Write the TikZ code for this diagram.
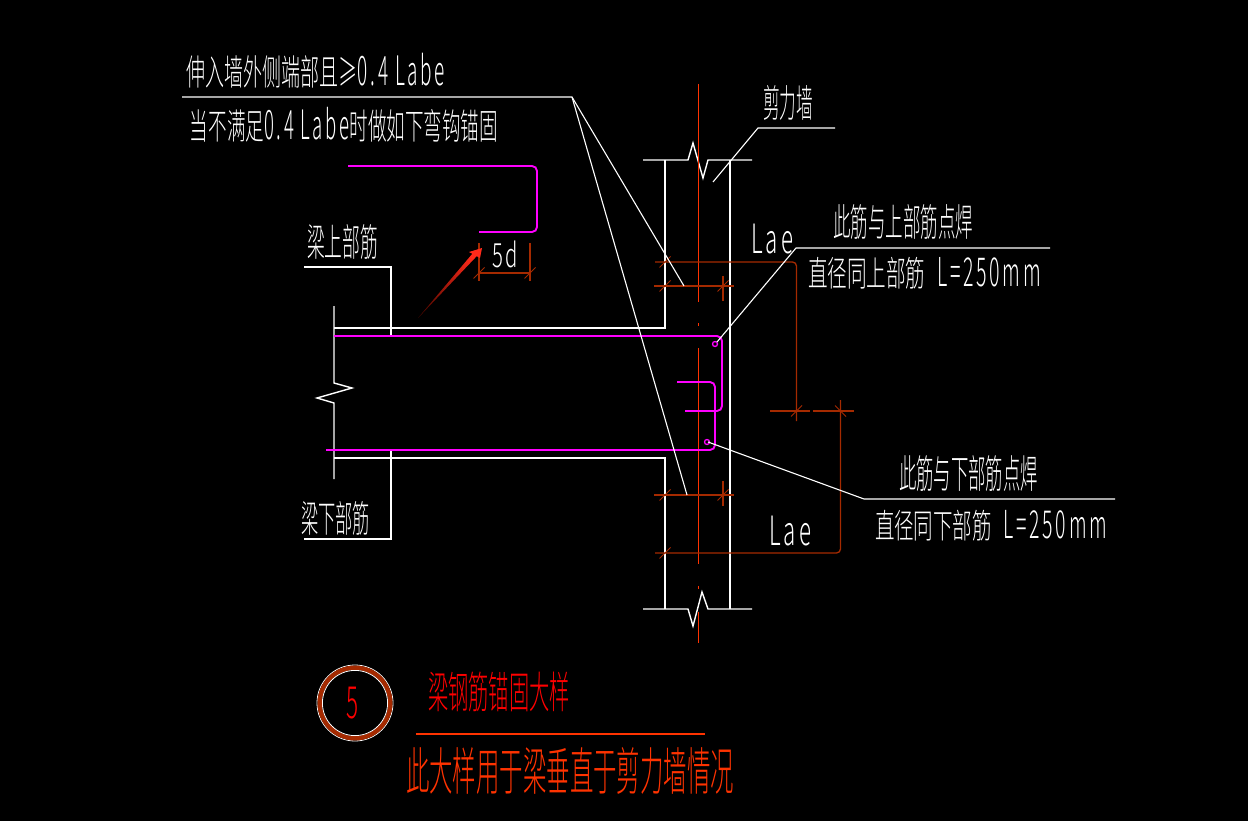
\documentclass[tikz,border=0pt]{standalone}
\usepackage{fontspec}
\IfFontExistsTF{Noto Sans CJK SC Light}{\setmainfont{Noto Sans CJK SC Light}\newfontfamily\latf[LetterSpace=14]{Noto Sans CJK SC Light}}{\setmainfont{Noto Sans CJK SC}\newfontfamily\latf[LetterSpace=14]{Noto Sans CJK SC}}
\newcommand{\lat}[1]{\scalebox{1}[1.14]{\latf #1}}
\definecolor{mag}{HTML}{FF00FF}
\definecolor{axisred}{HTML}{FF3300}
\definecolor{dimred}{HTML}{A52A00}
\definecolor{arrowred}{HTML}{FF2A1A}
\definecolor{arrowdark}{HTML}{600A00}
\newcommand{\lbl}[7]{\node[inner sep=0pt,outer sep=0pt,text=#6] (#1) at ({(#2+#3)/2},{(#4+#5)/2}) {\resizebox{\dimexpr #3pt-#2pt\relax}{\dimexpr #5pt-#4pt\relax}{\raisebox{\depth}{#7}}};}
\tikzset{
  wl/.style={draw=white,line width=1.4pt},
  lead/.style={draw=white,line width=1.1pt},
  rebar/.style={draw=mag,line width=1.9pt,rounded corners=5pt},
  axisl/.style={draw=axisred,line width=1.6pt},
  dimln/.style={draw=dimred,line width=1.3pt},
  tickln/.style={draw=dimred,line width=.9pt}
}
\begin{document}
\begin{tikzpicture}[x=1pt,y=-1pt]
\useasboundingbox (0,0) rectangle (1248,821);
\fill[black] (0,0) rectangle (1248,821);
% wall
\draw[wl] (643,160) -- (688,160) -- (693,143) -- (703,178) -- (708,160) -- (752,160);
\draw[wl] (643,609) -- (688,609) -- (693,626) -- (702,592) -- (708,609) -- (752,609);
\draw[wl] (730,160) -- (730,609);
\draw[wl] (665,160) -- (665,328) -- (334,328);
\draw[wl] (665,609) -- (665,458) -- (334,458);
\draw[wl] (334,306) -- (334,383) -- (352,388) -- (317,398) -- (334,403) -- (334,479);
\draw[wl] (304,267) -- (391,267) -- (391,336);
\draw[wl] (391,450) -- (391,539) -- (304,539);
% centre line
\draw[axisl] (698.5,84) -- (698.5,302);
\draw[axisl] (698.5,323) -- (698.5,326);
\draw[axisl] (698.5,348) -- (698.5,564);
\draw[axisl] (698.5,586) -- (698.5,589);
\draw[axisl] (698.5,612) -- (698.5,643);
% dimension lines
\draw[dimln,rounded corners=4pt] (655,262) -- (796.5,262) -- (796.5,421);
\draw[dimln] (654,286) -- (734,286);
\draw[dimln] (723,276) -- (723,301);
\draw[dimln] (654,495) -- (734,495);
\draw[dimln] (723,481) -- (723,506);
\draw[dimln,rounded corners=4pt] (655,553) -- (840.5,553) -- (840.5,400);
\draw[dimln] (770,411) -- (810,411);
\draw[dimln] (813,411) -- (854,411);
\draw[dimln] (479,243) -- (479,281);
\draw[dimln] (530,243) -- (530,281);
\draw[dimln] (479,273) -- (530,273);
\foreach \px/\py in {665/262,665/286,723/286,665/495,723/495,665/553,796.5/411,479/273,530/273}
  \draw[tickln] (\px-5.5,\py+5.5) -- (\px+5.5,\py-5.5);
\draw[tickln] (835,405.5) -- (846,416.5);
% rebars
\draw[rebar] (348,166) -- (537,166) -- (537,232) -- (479,232);
\draw[rebar] (334,336) -- (722,336) -- (722,411) -- (685,411);
\draw[rebar] (677,382) -- (715,382) -- (715,450) -- (326,450);
\draw[draw=mag,line width=1.3pt] (715,344) circle (2.5);
\draw[draw=mag,line width=1.3pt] (707,442) circle (2.5);
% leaders
\coordinate (topknee) at (572,97);
\coordinate (wallknee) at (758,128);
\coordinate (upknee) at (796,248);
\coordinate (lowknee) at (864,499);
\draw[lead] (182,97) -- (topknee) -- (684,286);
\draw[lead] (topknee) -- (687,495);
\draw[lead] (713,182) -- (wallknee) -- (835,128);
\draw[lead] (717,342) -- (upknee) -- (1050,248);
\draw[lead] (708,442) -- (lowknee) -- (1115,499);
% red arrow
\shade[top color=arrowred,bottom color=arrowdark,shading angle=-45]
  (418,318) -- (472.3,253.8) -- (469,252) -- (482,248) -- (480,258) -- (476.7,256.2) -- cycle;
% labels
\lbl{tA}{187}{445}{53}{88}{white}{伸入墙外侧端部且≥\lat{0.4 Labe}}
\lbl{tB}{190}{498}{107}{142}{white}{当不满足\lat{0.4 Labe}时做如下弯钩锚固}
\lbl{tC}{763}{813}{85}{120}{white}{剪力墙}
\lbl{tD}{833}{973}{205}{240}{white}{此筋与上部筋点焊}
\lbl{tE}{808}{1041}{257}{289}{white}{直径同上部筋\hspace{.6em}\lat{L=250mm}}
\lbl{tF}{899}{1038}{456}{492}{white}{此筋与下部筋点焊}
\lbl{tG}{875}{1107}{510}{541}{white}{直径同下部筋\hspace{.6em}\lat{L=250mm}}
\lbl{tH}{751}{793}{224}{254}{white}{{\latf Lae}}
\lbl{tI}{769}{811}{516}{546}{white}{{\latf Lae}}
\lbl{tJ}{492}{518}{241}{268}{white}{{\latf 5d}}
\lbl{tK}{307}{378}{225}{260}{white}{梁上部筋}
\lbl{tL}{301}{370}{501}{535}{white}{梁下部筋}
% title block
\draw[white,line width=.8pt] (355,703) circle (38);
\draw[dimred,line width=4.4pt] (355,703) circle (35.3);
\draw[white,line width=.8pt] (355,703) circle (32.6);
\lbl{tM}{346}{358}{687}{719}{red}{5}
\lbl{tN}{428}{570}{672}{712}{red}{梁钢筋锚固大样}
\draw[axisred,line width=1.4pt] (416,734) -- (705,734);
\lbl{tO}{406}{734}{748}{795}{axisred}{此大样用于梁垂直于剪力墙情况}
\end{tikzpicture}
\end{document}
